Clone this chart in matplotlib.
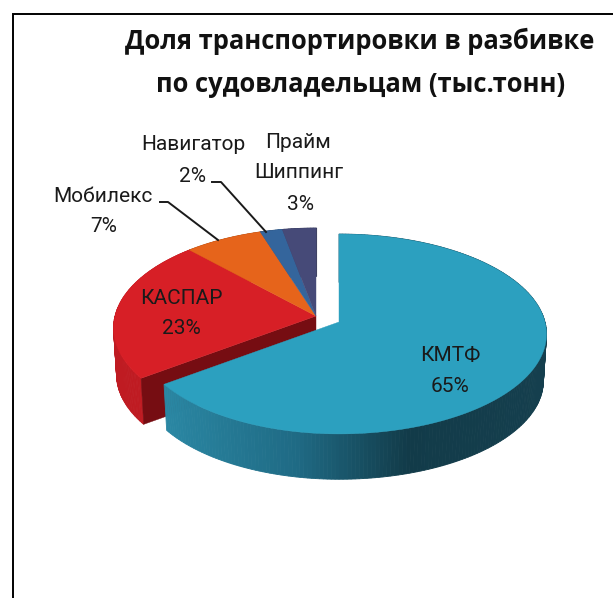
import numpy as np
import matplotlib
matplotlib.use("Agg")
import matplotlib.pyplot as plt
from matplotlib.patches import Polygon
from matplotlib.colors import LinearSegmentedColormap

title_lines = ["Доля транспортировки в разбивке", "по судовладельцам (тыс.тонн)"]
names = ["КМТФ", "КАСПАР", "Мобилекс", "Навигатор", "Прайм Шиппинг"]
shares = [65, 23, 7, 2, 3]
top_colors = ["#2ca0bf", "#d71f26", "#e6641b", "#34659c", "#464a78"]
side_colors = ["#1f6e88", "#bf1b22", "#a8470f", "#234670", "#2f3253"]

W, H = 613, 598
fig = plt.figure(figsize=(W/100, H/100), dpi=100)
ax = fig.add_axes([0, 0, 1, 1])
ax.set_xlim(0, W); ax.set_ylim(H, 0); ax.axis("off")

A_RIGHT, A_LEFT, B, P, DEPTH, SHRINK = 206, 201, 98.5, 0.12, 47, 0.985
MAIN_C = (339, 322)
REST_C = (316, 316)


def project(theta, r=1.0, centre=MAIN_C, bottom=False):
    t = np.radians(theta)
    X, Y = r*np.sin(t), r*np.cos(t)
    d = 1 + P*Y
    a = A_RIGHT if X >= 0 else A_LEFT
    sx, sy = a*X/d, -B*Y/d
    if bottom:
        return centre[0] + sx*SHRINK, centre[1] + sy*SHRINK + DEPTH
    return centre[0] + sx, centre[1] + sy


side_cmap = LinearSegmentedColormap.from_list(
    "side", [(0, "#2a87a3"), (0.35, "#1f6a84"), (0.64, "#123b49"), (1, "#153f4e")])


def side(a0, a1, centre, colour, z=2, graded=False):
    steps = np.arange(a0, a1 + 1, 1.0)
    for s0, s1 in zip(steps[:-1], steps[1:]):
        p = [project(s0, 1, centre), project(s1, 1, centre),
             project(s1, 1, centre, True), project(s0, 1, centre, True)]
        c = colour
        if graded:
            c = side_cmap(np.clip((p[0][0] - 165) / 383, 0, 1))
        ax.add_patch(Polygon(p, closed=True, facecolor=c, edgecolor=c, lw=0.6, zorder=z))


def top(a0, a1, centre, colour, z=3):
    arc = [project(a, 1, centre) for a in np.linspace(a0, a1, 200)]
    ax.add_patch(Polygon([centre] + arc, closed=True, facecolor=colour,
                         edgecolor=colour, lw=0.3, zorder=z))


edges = np.cumsum([0] + shares) * 3.6

for i in range(1, len(shares)):
    side(edges[i], edges[i+1], REST_C, side_colors[i])
corner = project(edges[1], 1, REST_C)
corner_b = project(edges[1], 1, REST_C, True)
ax.add_patch(Polygon([REST_C, corner, corner_b, (REST_C[0], REST_C[1] + DEPTH)],
                     closed=True, facecolor="#760d12", edgecolor="#760d12", lw=0.3, zorder=2.5))
for i in range(1, len(shares)):
    top(edges[i], edges[i+1], REST_C, top_colors[i])

side(edges[0], edges[1], MAIN_C, side_colors[0], z=4, graded=True)
top(edges[0], edges[1], MAIN_C, top_colors[0], z=5)

# frame
ax.plot([13, 13, W], [H, 14, 14], color="black", lw=1.4, zorder=6, solid_joinstyle="miter")

# leaders
lc = "#1a1a1a"
ax.plot([160, 168, 218], [202, 202, 240], color=lc, lw=1.4, zorder=6)
ax.plot([212, 221, 266], [182, 182, 232], color=lc, lw=1.4, zorder=6)

# title
tf = dict(family="Open Sans", fontweight="bold", fontsize=18.4, color="#111111",
          ha="center", va="center", zorder=7)
ax.text(360, 41, title_lines[0], **tf)
ax.text(361, 84, title_lines[1], **tf)

# labels
lf = dict(family="Roboto", fontsize=15, color="#1a1a1a", ha="center", va="center", zorder=7)
prime = names[4].split()
labels = [
    (450, 356, names[0]), (450, 386, f"{shares[0]}%"),
    (181, 299, names[1]), (181, 329, f"{shares[1]}%"),
    (103, 196, names[2]), (104, 227, f"{shares[2]}%"),
    (193, 145, names[3]), (192, 176, f"{shares[3]}%"),
    (298, 142, prime[0]), (299, 173, prime[1]), (300, 204, f"{shares[4]}%"),
]
for x, y, s in labels:
    ax.text(x, y, s, **lf)

fig.savefig("out.png", dpi=100)
